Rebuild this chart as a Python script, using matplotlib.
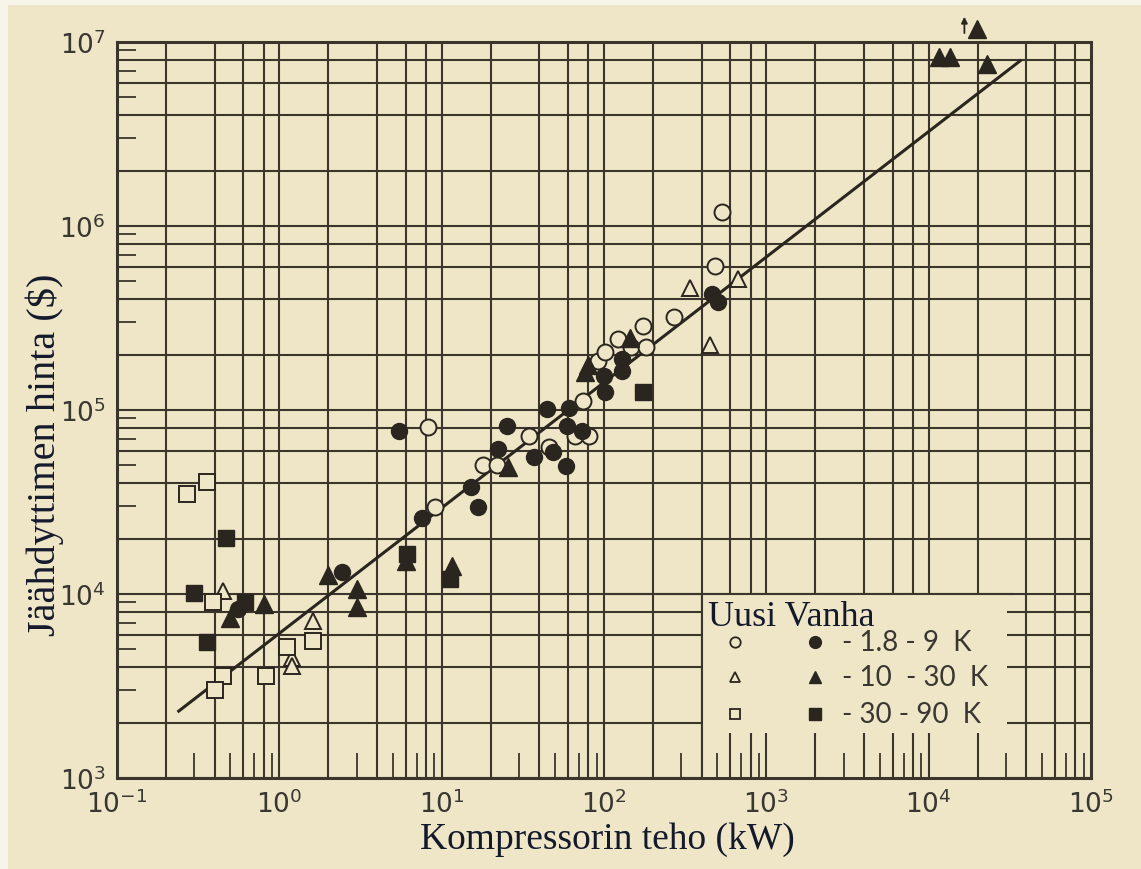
import numpy as np
import matplotlib.pyplot as plt
from matplotlib.patches import Rectangle
from matplotlib.transforms import blended_transform_factory

plt.rcParams['mathtext.fontset'] = 'custom'
plt.rcParams['mathtext.rm'] = 'Lato'
plt.rcParams['mathtext.it'] = 'Lato'
plt.rcParams['mathtext.default'] = 'regular'

# mittaukset: kompressorin teho (kW) ja jäähdyttimen hinta ($)
uusi_ympyra_x = [8.2, 9.1, 18, 21.9, 34.5, 45.9, 66, 81, 74, 92, 102, 122, 147, 174, 182, 270, 484, 534]
uusi_ympyra_y = [8.1e4, 2.97e4, 5.0e4, 5.0e4, 7.2e4, 6.3e4, 7.2e4, 7.2e4, 1.12e5, 1.85e5, 2.07e5,
                 2.43e5, 2.2e5, 2.86e5, 2.2e5, 3.2e5, 6.07e5, 1.19e6]
vanha_ympyra_x = [0.557, 2.43, 5.47, 7.57, 15.2, 16.8, 22.3, 25.3, 37, 44.6, 48.6, 58.4, 59.3, 61, 73,
                  102, 100, 129, 129, 463, 505]
vanha_ympyra_y = [8.3e3, 1.32e4, 7.7e4, 2.59e4, 3.8e4, 2.97e4, 6.1e4, 8.2e4, 5.55e4, 1.01e5, 5.9e4,
                  4.97e4, 8.2e4, 1.03e5, 7.7e4, 1.25e5, 1.53e5, 1.89e5, 1.63e5, 4.27e5, 3.86e5]
uusi_kolmio_x = [0.45, 1.61, 1.2, 1.2, 339, 670, 451]
uusi_kolmio_y = [1.04e4, 7.1e3, 4.5e3, 4.06e3, 4.6e5, 5.15e5, 2.25e5]
vanha_kolmio_x = [0.50, 0.80, 2.0, 3.01, 3.0, 6.0, 11.6, 25.6, 76.5, 80, 145, 1.15e4, 1.36e4, 2.29e4, 1.99e4]
vanha_kolmio_y = [7.4e3, 8.8e3, 1.27e4, 1.07e4, 8.5e3, 1.51e4, 1.42e4, 4.9e4, 1.61e5, 1.75e5, 2.46e5,
                  8.3e6, 8.3e6, 7.6e6, 1.18e7]
uusi_nelio_x = [0.27, 0.359, 0.39, 0.45, 0.40, 0.83, 1.11, 1.61]
uusi_nelio_y = [3.49e4, 4.06e4, 9.05e3, 3.58e3, 3.0e3, 3.58e3, 5.15e3, 5.55e3]
vanha_nelio_x = [0.298, 0.47, 0.359, 0.615, 6.1, 11.3, 174]
vanha_nelio_y = [1.01e4, 2.02e4, 5.48e3, 9.05e3, 1.65e4, 1.21e4, 1.25e5]

# sovitettu suora
sovite_x = [0.24, 3.66e4]
sovite_y = [2.31e3, 7.9e6]

lampotilat = ['- 1.8 - 9  K', '- 10  - 30  K', '- 30 - 90  K']

paperi = '#eee6c6'
muste = '#2b251f'
viiva = '#3b352c'
teksti = '#3a3632'

fig = plt.figure(figsize=(11.41, 8.70), dpi=100, facecolor=paperi)
ax = fig.add_axes([117 / 1141, 1 - 779 / 870, 974 / 1141, 736 / 870])
ax.set_facecolor(paperi)
ax.set_xscale('log')
ax.set_yscale('log')
ax.set_xlim(1e-1, 1e5)
ax.set_ylim(1e3, 1e7)

# ruudukko: dekadit ja 2, 4, 6, 8
kertoimet = [1, 2, 4, 6, 8]
for e in range(-1, 5):
    for k in kertoimet:
        ax.axvline(k * 10.0 ** e, color=viiva, lw=1.5, zorder=1)
for e in range(3, 7):
    for k in kertoimet:
        ax.axhline(k * 10.0 ** e, color=viiva, lw=1.5, zorder=1)

# selitteen tausta peittää ruudukon oikeassa alakulmassa
ax.add_patch(Rectangle((400, 1e3), 3.05e4 - 400, 1e4 - 1e3, facecolor=paperi,
                       edgecolor='none', zorder=1.5))
ax.axvline(400, ymax=0.25, color=viiva, lw=1.5, zorder=1.6)
ax.axhline(1e4, xmin=0.5, xmax=0.92, color=viiva, lw=1.5, zorder=1.6)
trans = blended_transform_factory(ax.transData, ax.transAxes)
tyngat = [6e2, 8e2, 1e3, 2e3, 4e3, 6e3, 8e3, 1e4, 2e4]
ax.vlines(tyngat, 0, 45 / 736, transform=trans, color=viiva, lw=1.5, zorder=1.6)

for s in ax.spines.values():
    s.set_color(viiva)
    s.set_linewidth(2.2)
    s.set_zorder(5)

# lyhyet merkit kohdissa 3, 5, 7, 9
ax.set_xticks([10.0 ** e for e in range(-1, 6)])
ax.set_yticks([10.0 ** e for e in range(3, 8)])
ax.set_xticks([k * 10.0 ** e for e in range(-1, 5) for k in (3, 5, 7, 9)], minor=True)
ax.set_yticks([k * 10.0 ** e for e in range(3, 7) for k in (3, 5, 7, 9)], minor=True)
ax.set_xticklabels([r'$10^{%d}$' % e for e in range(-1, 6)])
ax.set_yticklabels([r'$10^{%d}$' % e for e in range(3, 8)])
ax.tick_params(which='major', length=0, labelsize=19, labelcolor=teksti, pad=8)
ax.tick_params(axis='x', which='minor', direction='in', length=18, width=1.3, color=viiva)
ax.tick_params(axis='y', which='minor', direction='in', length=14, width=1.3, color=viiva)
ax.tick_params(which='minor', labelbottom=False, labelleft=False)

ax.plot(sovite_x, sovite_y, color=muste, lw=2.2, zorder=3)

avoin = dict(linestyle='none', markerfacecolor=paperi, markeredgecolor=muste,
             markeredgewidth=1.4, zorder=4, clip_on=False)
tayte = dict(linestyle='none', color=muste, zorder=4, clip_on=False)
ax.plot(uusi_ympyra_x, uusi_ympyra_y, 'o', ms=11.5, **avoin)
ax.plot(vanha_ympyra_x, vanha_ympyra_y, 'o', ms=11.5, **tayte)
ax.plot(uusi_kolmio_x, uusi_kolmio_y, '^', ms=12, **avoin)
ax.plot(vanha_kolmio_x, vanha_kolmio_y, '^', ms=12.5, **tayte)
ax.plot(uusi_nelio_x, uusi_nelio_y, 's', ms=11, **avoin)
ax.plot(vanha_nelio_x, vanha_nelio_y, 's', ms=11, **tayte)

# nuoli: arvo kuvaajan yläpuolella
ax.annotate('', xy=(1.66e4, 1.42e7), xytext=(1.66e4, 1.08e7), annotation_clip=False,
            arrowprops=dict(arrowstyle='-|>', color=muste, lw=1.3, mutation_scale=9))

# selite
ax.text(0.6068, 0.2188, 'Uusi Vanha', transform=ax.transAxes, fontsize=26,
        family='Liberation Serif', color='#141a2c', va='center', ha='left', zorder=6)
rivit_y = [0.1848, 0.1372, 0.087]
merkit = ['o', '^', 's']
for m, y, nimi in zip(merkit, rivit_y, lampotilat):
    ax.plot([0.6345], [y], m, transform=ax.transAxes, ms=7.5, linestyle='none',
            markerfacecolor=paperi, markeredgecolor=muste, markeredgewidth=1.3, zorder=6)
    ax.plot([0.7166], [y], m, transform=ax.transAxes, ms=8.5, linestyle='none',
            color=muste, zorder=6)
    ax.text(0.7444, y, nimi, transform=ax.transAxes, fontsize=20, family='Lato',
            color=teksti, va='center', ha='left', zorder=6)

fig.text(0.532, 0.0345, 'Kompressorin teho (kW)', fontsize=27, family='Liberation Serif',
         color='#141a2c', ha='center', va='center')
fig.text(0.039, 0.477, 'Jäähdyttimen hinta ($)', fontsize=29, family='Liberation Serif',
         color='#141a2c', ha='center', va='center', rotation=90)

# skannauksen vaaleat reunat
fig.patches.append(Rectangle((0, 1 - 6 / 870), 1, 6 / 870, transform=fig.transFigure,
                             facecolor='#f7f4ea', edgecolor='none', zorder=0))
fig.patches.append(Rectangle((0, 0), 8 / 1141, 1, transform=fig.transFigure,
                             facecolor='#f7f4ea', edgecolor='none', zorder=0))

fig.savefig('out.png', dpi=100, facecolor=paperi)
